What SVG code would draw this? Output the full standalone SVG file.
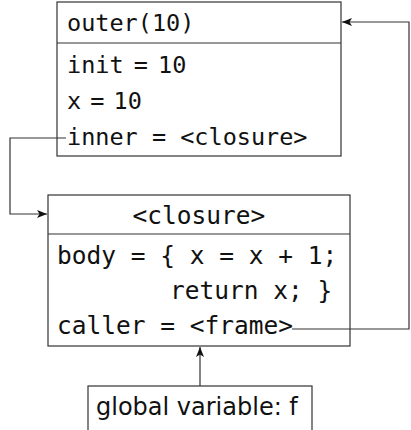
<svg xmlns="http://www.w3.org/2000/svg" width="411" height="430" viewBox="0 0 411 430">
<defs>
<marker id="ah" viewBox="0 0 10 10" refX="10" refY="5" markerWidth="10" markerHeight="10" markerUnits="userSpaceOnUse" orient="auto">
<path d="M0,1 L10,5 L0,9 L2.5,5 Z" fill="#111"/>
</marker>
</defs>
<style>
.box{fill:#fff;stroke:#333;stroke-width:1.2}
.div{stroke:#333;stroke-width:1.2}
.mono{font-family:"DejaVu Sans Mono",monospace;font-size:23.5px;fill:#111}
.mono2{font-family:"DejaVu Sans Mono",monospace;font-size:24.5px;fill:#111}
.sans{font-family:"DejaVu Sans",sans-serif;font-size:24px;fill:#111}
.edge{fill:none;stroke:#333;stroke-width:1.2;marker-end:url(#ah)}
</style>
<rect width="411" height="430" fill="#fff"/>
<g id="outer">
<rect class="box" x="57" y="2" width="284" height="154"/>
<line class="div" x1="57" y1="43" x2="341" y2="43"/>
<text class="mono" x="67" y="31">outer(10)</text>
<text class="mono" x="67" y="73" word-spacing="-4">init = 10</text>
<text class="mono" x="67" y="109" word-spacing="-5">x = 10</text>
<text class="mono" x="67" y="145">inner = &lt;closure&gt;</text>
</g>
<g id="closure">
<rect class="box" x="48" y="195" width="302" height="151"/>
<line class="div" x1="48" y1="234" x2="350" y2="234"/>
<text class="mono2" x="199" y="224" text-anchor="middle">&lt;closure&gt;</text>
<text class="mono2" x="57" y="264" xml:space="preserve">body = { x = x + 1;</text>
<text class="mono2" x="170" y="299">return x; }</text>
<text class="mono2" x="57" y="334">caller = &lt;frame&gt;</text>
</g>
<g id="global">
<rect class="box" x="88" y="386" width="224" height="60"/>
<text class="sans" x="96" y="415">global variable: f</text>
</g>
<g id="connectors">
<path class="edge" d="M66,138 H10 V214 H47"/>
<path class="edge" d="M292,329 H409 V22 H342"/>
<path class="edge" d="M200,386 V347"/>
</g>
</svg>
